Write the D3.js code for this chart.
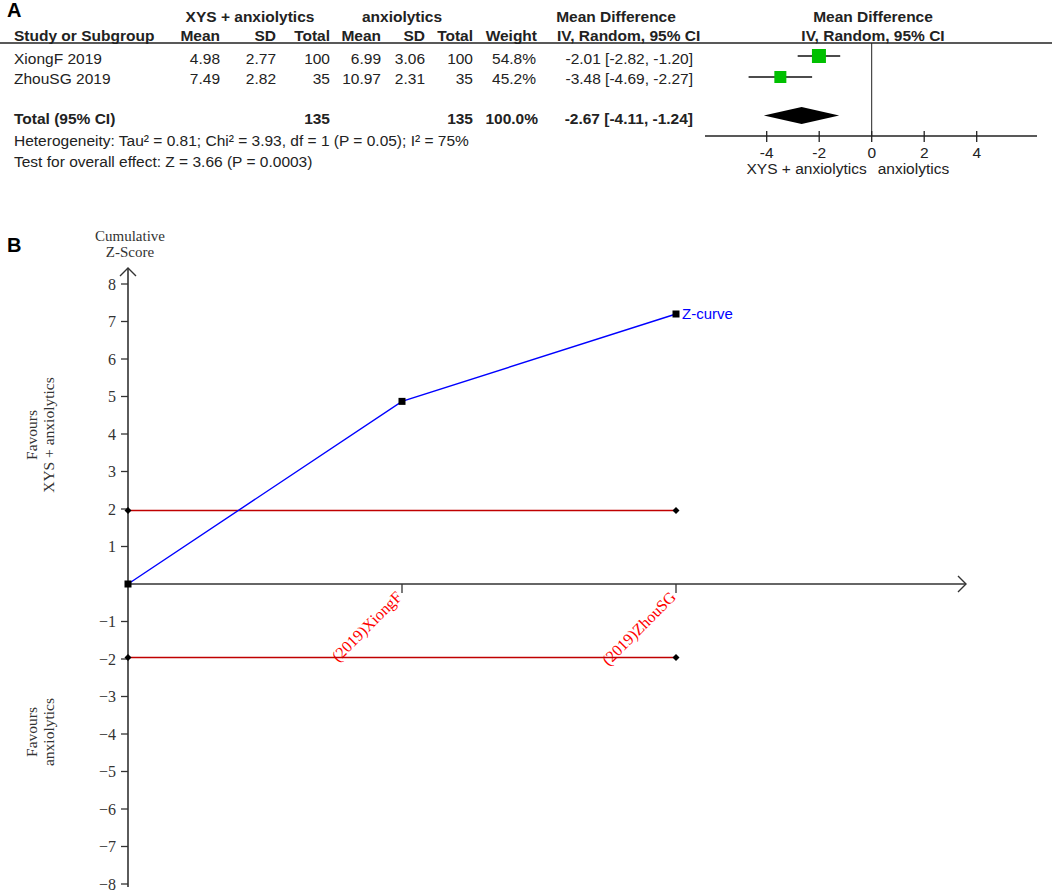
<!DOCTYPE html>
<html><head><meta charset="utf-8">
<script src="https://cdn.jsdelivr.net/npm/d3@7"></script>
<style>body{margin:0;background:#fff}svg{display:block}</style>
</head><body>
<svg id="c" width="1052" height="891"></svg>
<script>
// ---------- Panel A data ----------
const studies = ["XiongF 2019", "ZhouSG 2019"];
const expMean = [4.98, 7.49], expSD = [2.77, 2.82], expN = [100, 35];
const ctlMean = [6.99, 10.97], ctlSD = [3.06, 2.31], ctlN = [100, 35];
const weights = ["54.8%", "45.2%"];
const md = [-2.01, -3.48], lo = [-2.82, -4.69], hi = [-1.20, -2.27];
const totalMD = -2.67, totalLo = -4.11, totalHi = -1.24;
const forestTicks = [-4, -2, 0, 2, 4];
// ---------- Panel B data ----------
const tsaLabels = ["", "(2019)XiongF", "(2019)ZhouSG"];
const zCurve = [0, 4.87, 7.2];
const boundary = 1.96;
const zTicks = [-8,-7,-6,-5,-4,-3,-2,-1,1,2,3,4,5,6,7,8];

const svg = d3.select("#c");
const sans = "Liberation Sans, Arial, sans-serif";
const serif = "Liberation Serif, Times New Roman, serif";
const FS = 15.5;
const txt = (x, y, s, o = {}) => svg.append("text").attr("x", x).attr("y", y).text(s)
  .attr("font-family", o.f || sans).attr("font-size", o.s || FS)
  .attr("font-weight", o.b ? "bold" : "normal").attr("text-anchor", o.a || "start")
  .attr("fill", o.c || "#222");

// ===== Panel A =====
txt(7, 17, "A", {s: 20, b: true, c: "#000"});
txt(250, 22, "XYS + anxiolytics", {b: true, a: "middle"});
txt(402, 22, "anxiolytics", {b: true, a: "middle"});
txt(616, 22, "Mean Difference", {b: true, a: "middle"});
txt(873, 22, "Mean Difference", {b: true, a: "middle"});
txt(14, 41, "Study or Subgroup", {b: true});
[["Mean",220],["SD",276],["Total",330],["Mean",381],["SD",425],["Total",473],["Weight",537]]
  .forEach(([s,x]) => txt(x, 41, s, {b: true, a: "end"}));
txt(557, 41, "IV, Random, 95% CI", {b: true});
txt(873, 41, "IV, Random, 95% CI", {b: true, a: "middle"});
svg.append("line").attr("x1", 0).attr("x2", 1052).attr("y1", 43).attr("y2", 43).attr("stroke", "#222").attr("stroke-width", 1.3);

const rowY = [64, 84];
const f2 = v => d3.format(".2f")(v).replace("\u2212", "-");
studies.forEach((s, i) => {
  const y = rowY[i];
  txt(14, y, s);
  txt(220, y, f2(expMean[i]), {a: "end"});
  txt(276, y, f2(expSD[i]), {a: "end"});
  txt(330, y, expN[i], {a: "end"});
  txt(381, y, f2(ctlMean[i]), {a: "end"});
  txt(425, y, f2(ctlSD[i]), {a: "end"});
  txt(473, y, ctlN[i], {a: "end"});
  txt(536, y, weights[i], {a: "end"});
  txt(693, y, `${f2(md[i])} [${f2(lo[i])}, ${f2(hi[i])}]`, {a: "end"});
});
txt(14, 124, "Total (95% CI)", {b: true});
txt(330, 124, d3.sum(expN), {b: true, a: "end"});
txt(473, 124, d3.sum(ctlN), {b: true, a: "end"});
txt(538, 124, "100.0%", {b: true, a: "end"});
txt(693, 124, `${f2(totalMD)} [${f2(totalLo)}, ${f2(totalHi)}]`, {b: true, a: "end"});
txt(14, 146, "Heterogeneity: Tau² = 0.81; Chi² = 3.93, df = 1 (P = 0.05); I² = 75%");
txt(14, 167, "Test for overall effect: Z = 3.66 (P = 0.0003)");

const fx = d3.scaleLinear().domain([-4, 4]).range([766.7, 976.7]);
const fAxisY = 136;
svg.append("line").attr("x1", 705).attr("x2", 1037).attr("y1", fAxisY).attr("y2", fAxisY).attr("stroke", "#222").attr("stroke-width", 1.3);
svg.append("line").attr("x1", fx(0)).attr("x2", fx(0)).attr("y1", 43).attr("y2", fAxisY).attr("stroke", "#222").attr("stroke-width", 1);
forestTicks.forEach(t => {
  svg.append("line").attr("x1", fx(t)).attr("x2", fx(t)).attr("y1", fAxisY - 5).attr("y2", fAxisY + 6).attr("stroke", "#222").attr("stroke-width", 1.3);
  txt(fx(t), 158, t < 0 ? "-" + Math.abs(t) : t, {a: "middle"});
});
txt(fx(0) - 5, 174, "XYS + anxiolytics", {a: "end"});
txt(fx(0) + 6, 174, "anxiolytics");
const sqSize = [14, 12], sqY = [56, 77];
studies.forEach((s, i) => {
  svg.append("line").attr("x1", fx(lo[i])).attr("x2", fx(hi[i])).attr("y1", sqY[i]).attr("y2", sqY[i]).attr("stroke", "#111").attr("stroke-width", 1.3);
  svg.append("rect").attr("x", fx(md[i]) - sqSize[i]/2).attr("y", sqY[i] - sqSize[i]/2)
    .attr("width", sqSize[i]).attr("height", sqSize[i]).attr("fill", "#00c000");
});
const dy = 115.5;
svg.append("path").attr("d", `M${fx(totalLo)},${dy}L${fx(totalMD)},${dy-8.5}L${fx(totalHi)},${dy}L${fx(totalMD)},${dy+8.5}Z`).attr("fill", "#000");

// ===== Panel B =====
txt(7, 252, "B", {s: 20, b: true, c: "#000"});
const bx = d3.scalePoint().domain(tsaLabels).range([128, 676]);
const by = d3.scaleLinear().domain([-8, 8]).range([884, 284]);
const axCol = "#333";
svg.append("line").attr("x1", 128).attr("x2", 128).attr("y1", 268).attr("y2", 887).attr("stroke", axCol).attr("stroke-width", 1.6);
svg.append("path").attr("d", "M120,276L128,268L136,276").attr("fill", "none").attr("stroke", axCol).attr("stroke-width", 1.4);
svg.append("line").attr("x1", 128).attr("x2", 966).attr("y1", by(0)).attr("y2", by(0)).attr("stroke", axCol).attr("stroke-width", 1.6);
svg.append("path").attr("d", `M958,${by(0)-8}L966,${by(0)}L958,${by(0)+8}`).attr("fill", "none").attr("stroke", axCol).attr("stroke-width", 1.4);
zTicks.forEach(t => {
  svg.append("line").attr("x1", 121).attr("x2", 128).attr("y1", by(t)).attr("y2", by(t)).attr("stroke", axCol).attr("stroke-width", 1.3);
  txt(116, by(t) + 5.5, t < 0 ? "\u2212" + Math.abs(t) : t, {f: serif, s: 16, a: "end", c: "#333"});
});
tsaLabels.slice(1).forEach(l => {
  const x = bx(l);
  svg.append("line").attr("x1", x).attr("x2", x).attr("y1", by(0)).attr("y2", by(0) + 9).attr("stroke", axCol).attr("stroke-width", 1.3);
  svg.append("text").attr("transform", `translate(${x + 1},${by(0) + 14}) rotate(-45)`)
    .attr("text-anchor", "end").attr("font-family", serif).attr("font-size", 16).attr("fill", "#ff0000").text(l);
});
txt(130, 241, "Cumulative", {f: serif, s: 15, a: "middle", c: "#333"});
txt(130, 257, "Z-Score", {f: serif, s: 15, a: "middle", c: "#333"});
const rot = (x, y, s) => svg.append("text").attr("transform", `translate(${x},${y}) rotate(-90)`)
  .attr("text-anchor", "middle").attr("font-family", serif).attr("font-size", 15.5).attr("fill", "#333").text(s);
rot(37, 435, "Favours"); rot(54, 435, "XYS + anxiolytics");
rot(37, 732, "Favours"); rot(54, 732, "anxiolytics");

[boundary, -boundary].forEach(b => {
  svg.append("line").attr("x1", bx(tsaLabels[0])).attr("x2", bx(tsaLabels[2])).attr("y1", by(b)).attr("y2", by(b))
    .attr("stroke", "#c00000").attr("stroke-width", 1.4);
  [tsaLabels[0], tsaLabels[2]].forEach(l => {
    const x = bx(l), y = by(b);
    svg.append("path").attr("d", `M${x-3.5},${y}L${x},${y-3.5}L${x+3.5},${y}L${x},${y+3.5}Z`).attr("fill", "#000");
  });
});
const line = d3.line().x((d, i) => bx(tsaLabels[i])).y(d => by(d));
svg.append("path").datum(zCurve).attr("d", line).attr("fill", "none").attr("stroke", "#0000ff").attr("stroke-width", 1.4);
zCurve.forEach((z, i) => {
  svg.append("rect").attr("x", bx(tsaLabels[i]) - 3.5).attr("y", by(z) - 3.5).attr("width", 7).attr("height", 7).attr("fill", "#000");
});
txt(bx(tsaLabels[2]) + 6, by(zCurve[2]) + 5, "Z-curve", {s: 15, c: "#0000ff"});
</script>
</body></html>
